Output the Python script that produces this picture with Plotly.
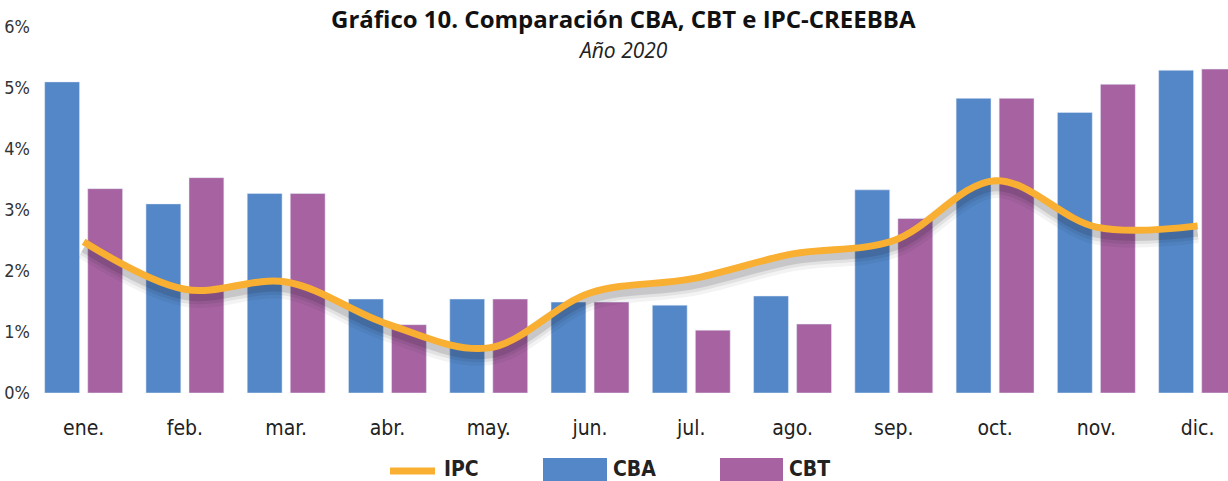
import plotly.graph_objects as go

months = ["ene.", "feb.", "mar.", "abr.", "may.", "jun.", "jul.", "ago.", "sep.", "oct.", "nov.", "dic."]
cba = [5.10, 3.10, 3.27, 1.54, 1.54, 1.49, 1.44, 1.59, 3.33, 4.83, 4.60, 5.29]
cbt = [3.35, 3.53, 3.27, 1.12, 1.54, 1.49, 1.03, 1.13, 2.86, 4.83, 5.06, 5.31]
ipc = [2.48, 1.70, 1.82, 1.13, 0.74, 1.64, 1.87, 2.28, 2.50, 3.48, 2.72, 2.74]
yticks = [0, 1, 2, 3, 4, 5, 6]
ytick_text = ["0%", "1%", "2%", "3%", "4%", "5%", "6%"]

BLUE = "#5387C7"
PURPLE = "#A662A1"
ORANGE = "#F9AF31"
FONT = "DejaVu Sans Condensed, Liberation Sans Narrow, sans-serif"

W, H = 1228, 481
ML, MR, MT, MB = 33, 0, 27, 88
PW = W - ML - MR
PH = H - MT - MB


def px(x):
    return (x - ML) / PW


def py(y):
    return (H - MB - y) / PH


fig = go.Figure()

fig.add_trace(go.Bar(x=months, y=cba, name="CBA", marker_color=BLUE, showlegend=False))
fig.add_trace(go.Bar(x=months, y=cbt, name="CBT", marker_color=PURPLE, showlegend=False))

# soft shadow under the IPC line
for w, a, off in [(20, 0.05, 0.12), (14, 0.08, 0.11), (9, 0.13, 0.10)]:
    fig.add_trace(go.Scatter(
        x=months, y=[v - off for v in ipc], mode="lines",
        line=dict(color=f"rgba(20,20,40,{a})", width=w, shape="spline", smoothing=1.0),
        hoverinfo="skip", showlegend=False))

fig.add_trace(go.Scatter(
    x=months, y=ipc, mode="lines", name="IPC",
    line=dict(color=ORANGE, width=7, shape="spline", smoothing=1.0),
    showlegend=False))

# custom legend
shapes = [
    dict(type="line", xref="paper", yref="paper", x0=px(390), x1=px(435), y0=py(471), y1=py(471),
         line=dict(color=ORANGE, width=7)),
    dict(type="rect", xref="paper", yref="paper", x0=px(543), x1=px(607), y0=py(458), y1=py(495),
         fillcolor=BLUE, line=dict(width=0)),
    dict(type="rect", xref="paper", yref="paper", x0=px(720), x1=px(783), y0=py(458), y1=py(495),
         fillcolor=PURPLE, line=dict(width=0)),
]
LEG_FONT = dict(family=FONT, size=21, color="#222")
annotations = [
    dict(text="<b>IPC</b>", x=px(442), y=py(469), xref="paper", yref="paper", xanchor="left",
         yanchor="middle", showarrow=False, font=LEG_FONT),
    dict(text="<b>CBA</b>", x=px(611), y=py(469), xref="paper", yref="paper", xanchor="left",
         yanchor="middle", showarrow=False, font=LEG_FONT),
    dict(text="<b>CBT</b>", x=px(787), y=py(469), xref="paper", yref="paper", xanchor="left",
         yanchor="middle", showarrow=False, font=LEG_FONT),
    dict(text="<b>Gráfico 10. Comparación CBA, CBT e IPC-CREEBBA</b>", x=px(623), y=py(0),
         xref="paper", yref="paper", xanchor="center", yanchor="top", showarrow=False,
         font=dict(family="Open Sans, sans-serif", size=24, color="#111")),
    dict(text="<i>Año 2020</i>", x=px(623), y=py(50),
         xref="paper", yref="paper", xanchor="center", yanchor="middle", showarrow=False,
         font=dict(family="Open Sans, sans-serif", size=21, color="#222")),
]

fig.update_layout(
    width=W, height=H,
    margin=dict(l=ML, r=MR, t=MT, b=MB, pad=0),
    paper_bgcolor="white", plot_bgcolor="white",
    barmode="group", bargap=0.15, bargroupgap=0.19,
    shapes=shapes, annotations=annotations,
    showlegend=False,
    xaxis=dict(range=[-0.5, 11.3], showgrid=False, showline=False, zeroline=False,
               ticks="", tickfont=dict(family=FONT, size=21, color="#222"),
               ticklabelstandoff=20),
    yaxis=dict(range=[0, 6], tickvals=yticks, ticktext=ytick_text, showgrid=False,
               showline=False, zeroline=False, ticks="",
               tickfont=dict(family=FONT, size=18, color="#333"), ticklabelstandoff=2),
)

fig.write_html("out.html", config={"displayModeBar": False},
               post_script="document.body.style.margin='0';document.body.style.overflow='hidden';")
